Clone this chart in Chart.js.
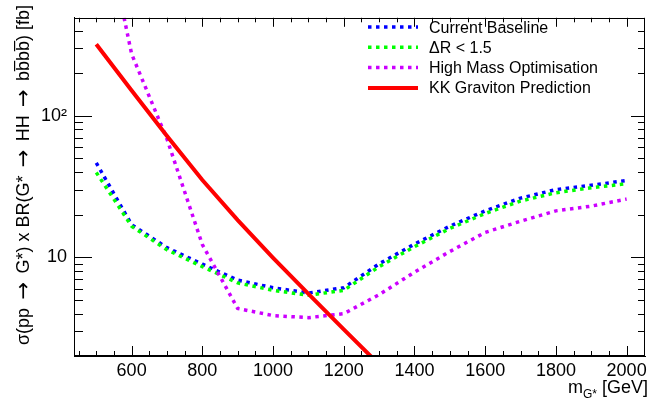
<!DOCTYPE html>
<html><head><meta charset="utf-8">
<script src="https://cdn.jsdelivr.net/npm/chart.js@4.4.1/dist/chart.umd.min.js"></script>
<style>html,body{margin:0;padding:0;background:#fff;}#wrap{width:651px;height:405px;}</style>
</head><body><div id="wrap"><canvas id="c" width="651" height="405"></canvas></div>
<script>
// ---- data ----
const masses = [500,600,700,800,900,1000,1100,1200,1300,1400,1500,1600,1700,1800,1900,2000];
const currentBaseline = [46.5,17.0,11.7,8.95,6.9,6.1,5.6,6.1,9.0,12.4,16.6,21.3,26.2,30.1,32.3,34.9];
const deltaR = [39.8,16.6,11.3,8.6,6.6,5.85,5.4,5.85,8.6,11.9,16.0,20.4,25.0,28.6,31.0,33.1];
const highMass = [4300,273,68.5,12.3,4.35,3.88,3.75,4.0,5.45,7.85,11.0,15.0,18.0,21.3,23.0,25.8];
const kkMasses = [500,600,700,800,900,1000,1100,1200,1300];
const kkGraviton = [320,151,71.9,35.2,18.3,9.93,5.52,3.10,1.75];
const seriesLabels = ['Current Baseline','\u0394R < 1.5','High Mass Optimisation','KK Graviton Prediction'];
const xTickValues = [600,800,1000,1200,1400,1600,1800,2000];
const yTickValues = [10,100];
const yTickLabels = ['10','10\u00B2'];
// y-axis title, split around the arrows
const yTitleParts = ['\u03C3(pp', '\u2192', 'G*) x BR(G*', '\u2192', 'HH', '\u2192', 'bb\u0305bb\u0305) [fb]'];

const FONT = "'Liberation Sans', Arial, Helvetica, sans-serif";
const ARROWFONT = "'DejaVu Sans', sans-serif";
const pts = (xs, ys) => xs.map((x, i) => ({x: x, y: ys[i]}));

const frame = {
  id: 'frame',
  afterDraw(chart) {
    const ctx = chart.ctx, a = chart.chartArea, xs = chart.scales.x, ys = chart.scales.y;
    ctx.save();
    ctx.strokeStyle = '#000'; ctx.lineWidth = 1;
    ctx.strokeRect(Math.round(a.left) + 0.5, Math.round(a.top) + 0.5, Math.round(a.right - a.left) - 1, Math.round(a.bottom - a.top) - 1);
    ctx.beginPath();
    for (let v = 450; v <= xs.max; v += 50) {
      const px = Math.round(xs.getPixelForValue(v)) + 0.5;
      const major = v % 200 === 0;
      ctx.moveTo(px, a.bottom); ctx.lineTo(px, a.bottom - (major ? 10 : 5));
      ctx.moveTo(px, a.top); ctx.lineTo(px, a.top + (major ? 9 : 4.5));
    }
    for (const d of [1, 10, 100]) {
      for (let k = 1; k <= 9; k++) {
        const v = k * d;
        if (v < ys.min || v > ys.max) continue;
        const py = Math.round(ys.getPixelForValue(v)) + 0.5;
        const major = k === 1;
        ctx.moveTo(a.left, py); ctx.lineTo(a.left + (major ? 18 : 9), py);
        ctx.moveTo(a.right, py); ctx.lineTo(a.right - (major ? 14 : 7), py);
      }
    }
    ctx.stroke();

    // legend
    const ds = chart.data.datasets;
    ctx.font = '16px ' + FONT;
    ctx.textAlign = 'left'; ctx.textBaseline = 'alphabetic';
    for (let i = 0; i < ds.length; i++) {
      const yb = 32.5 + 20.3 * i;
      const yl = yb - 5.5;
      ctx.save();
      ctx.strokeStyle = ds[i].borderColor;
      ctx.lineWidth = ds[i].borderWidth;
      ctx.setLineDash(ds[i].borderDash || []);
      ctx.beginPath(); ctx.moveTo(368, yl); ctx.lineTo(418, yl); ctx.stroke();
      ctx.restore();
      ctx.fillStyle = '#000';
      ctx.fillText(ds[i].label, 429, yb);
    }

    // y title (rotated), spread to the reference length
    ctx.save();
    ctx.translate(29, 345);
    ctx.rotate(-Math.PI / 2);
    ctx.fillStyle = '#000';
    ctx.textAlign = 'left'; ctx.textBaseline = 'alphabetic';
    const fonts = yTitleParts.map(p => p === '\u2192' ? '21px ' + ARROWFONT : '18px ' + FONT);
    const widths = yTitleParts.map((p, i) => { ctx.font = fonts[i]; return ctx.measureText(p).width; });
    const total = widths.reduce((s, w) => s + w, 0);
    const gap = Math.max(2, (340 - total) / (yTitleParts.length - 1));
    let cx = 0;
    yTitleParts.forEach((p, i) => {
      ctx.font = fonts[i];
      ctx.fillText(p, cx, p === '\u2192' ? 0.5 : 0);
      cx += widths[i] + gap;
    });
    ctx.restore();

    // x title: m_{G*} [GeV]
    ctx.fillStyle = '#000';
    ctx.textAlign = 'left'; ctx.textBaseline = 'alphabetic';
    const big = '18px ' + FONT, small = '12px ' + FONT;
    ctx.font = big; const wm = ctx.measureText('m').width; const wu = ctx.measureText(' [GeV]').width;
    ctx.font = small; const ws = ctx.measureText('G*').width;
    const x0 = 648 - (wm + ws + wu);
    const yb = 393;
    ctx.font = big; ctx.fillText('m', x0, yb);
    ctx.font = small; ctx.fillText('G*', x0 + wm, yb + 5);
    ctx.font = big; ctx.fillText(' [GeV]', x0 + wm + ws, yb);
    ctx.restore();
  }
};

Chart.defaults.font.family = FONT;
Chart.defaults.color = '#000';

new Chart(document.getElementById('c'), {
  type: 'line',
  data: {
    datasets: [
      {label: seriesLabels[0], data: pts(masses, currentBaseline), borderColor: '#0000ff', borderWidth: 3.5, borderDash: [3.5, 4.5], pointRadius: 0, fill: false, order: 4, clip: 0},
      {label: seriesLabels[1], data: pts(masses, deltaR), borderColor: '#00ff00', borderWidth: 3.5, borderDash: [3.5, 4.5], pointRadius: 0, fill: false, order: 3, clip: 0},
      {label: seriesLabels[2], data: pts(masses, highMass), borderColor: '#cc00ff', borderWidth: 3.5, borderDash: [3.5, 4.5], pointRadius: 0, fill: false, order: 2, clip: 0},
      {label: seriesLabels[3], data: pts(kkMasses, kkGraviton), borderColor: '#ff0000', borderWidth: 4, pointRadius: 0, fill: false, order: 1, clip: 0}
    ]
  },
  options: {
    responsive: false, animation: false, devicePixelRatio: 1,
    layout: {padding: {left: 0, top: 4, right: 6, bottom: 0}},
    plugins: {legend: {display: false}, tooltip: {enabled: false}},
    scales: {
      x: {
        type: 'linear', min: 437, max: 2052,
        grid: {display: false, drawTicks: false},
        border: {display: true, color: '#000'},
        ticks: {font: {size: 18}, padding: 4, maxRotation: 0, autoSkip: false, callback: v => String(v)},
        afterBuildTicks: s => { s.ticks = xTickValues.map(v => ({value: v})); },
        afterFit: s => { s.height = 49; }
      },
      y: {
        type: 'logarithmic', min: 2.01, max: 492,
        grid: {display: false, drawTicks: false},
        border: {display: true, color: '#000'},
        ticks: {font: {size: 18}, padding: 7, autoSkip: false, callback: (v, i) => yTickLabels[i]},
        afterBuildTicks: s => { s.ticks = yTickValues.map(v => ({value: v})); },
        afterFit: s => { s.width = 74; }
      }
    }
  },
  plugins: [frame]
});
</script></body></html>
